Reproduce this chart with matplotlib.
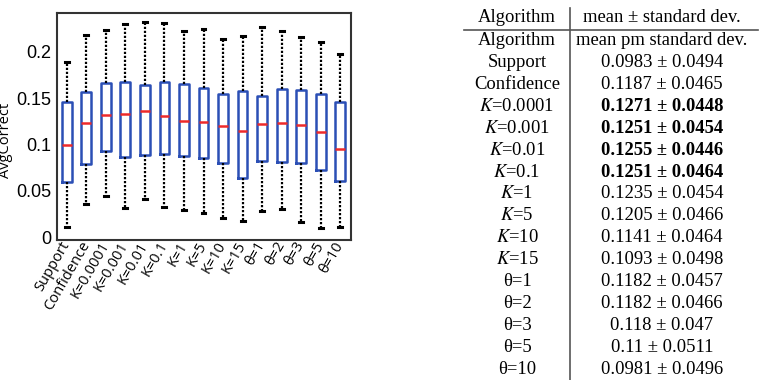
import matplotlib
matplotlib.use("Agg")
import matplotlib.pyplot as plt

# box plot data
names = ["Support", "Confidence", "K=0.0001", "K=0.001", "K=0.01", "K=0.1",
         "K=1", "K=5", "K=10", "K=15", "θ=1", "θ=2", "θ=3", "θ=5", "θ=10"]
whis_hi = [0.189, 0.2185, 0.224, 0.2297, 0.2318, 0.2311, 0.2225, 0.2247,
           0.2142, 0.2175, 0.2265, 0.2228, 0.2164, 0.2107, 0.1977]
q3 = [0.146, 0.1565, 0.1668, 0.168, 0.1643, 0.1676, 0.165, 0.1614,
      0.1543, 0.1579, 0.1528, 0.160, 0.1586, 0.155, 0.1463]
med = [0.0997, 0.1237, 0.132, 0.133, 0.136, 0.1313, 0.1259, 0.1245,
       0.1205, 0.1148, 0.1226, 0.1237, 0.1216, 0.114, 0.0957]
q1 = [0.0598, 0.0789, 0.0932, 0.087, 0.0892, 0.090, 0.0881, 0.0853,
      0.0803, 0.0644, 0.0828, 0.0817, 0.080, 0.0724, 0.0605]
whis_lo = [0.0106, 0.0358, 0.044, 0.0315, 0.041, 0.0325, 0.0289, 0.026,
           0.0207, 0.017, 0.0286, 0.0307, 0.016, 0.0099, 0.0113]

# table data
tab_header = ["Algorithm", "mean ± standard dev."]
tab_algo = ["Algorithm", "Support", "Confidence", "$K$=0.0001", "$K$=0.001",
            "$K$=0.01", "$K$=0.1", "$K$=1", "$K$=5", "$K$=10", "$K$=15",
            "θ=1", "θ=2", "θ=3", "θ=5", "θ=10"]
tab_val = ["mean pm standard dev.", "0.0983 ± 0.0494", "0.1187 ± 0.0465",
           "0.1271 ± 0.0448", "0.1251 ± 0.0454", "0.1255 ± 0.0446",
           "0.1251 ± 0.0464", "0.1235 ± 0.0454", "0.1205 ± 0.0466",
           "0.1141 ± 0.0464", "0.1093 ± 0.0498", "0.1182 ± 0.0457",
           "0.1182 ± 0.0466", "0.118 ± 0.047", "0.11 ± 0.0511",
           "0.0981 ± 0.0496"]
tab_bold = [False, False, False, True, True, True, True, False, False,
            False, False, False, False, False, False, False]

plt.rcParams["mathtext.fontset"] = "stix"

fig = plt.figure(figsize=(7.68, 3.8), dpi=100)

# ---- box plot ----
ax = fig.add_axes([57 / 768, 1 - 240 / 380, 294 / 768, 227 / 380])
stats = []
for i in range(len(names)):
    stats.append(dict(med=med[i], q1=q1[i], q3=q3[i], whislo=whis_lo[i],
                      whishi=whis_hi[i], fliers=[], label=names[i]))
ax.bxp(stats, positions=range(1, len(names) + 1), widths=0.5,
       showfliers=False, capwidths=0.2,
       boxprops=dict(color="#2b4fb5", linewidth=1.8),
       medianprops=dict(color="#ee2a2a", linewidth=1.8),
       whiskerprops=dict(color="black", linestyle=(0, (1, 0.8)), linewidth=1.6),
       capprops=dict(color="black", linewidth=2.2))
ax.set_xlim(0.5, 15.55)
ax.set_ylim(-0.003, 0.242)
ax.set_yticks([0, 0.05, 0.1, 0.15, 0.2])
ax.set_yticklabels(["0", "0.05", "0.1", "0.15", "0.2"],
                   family="Liberation Sans", fontsize=13)
ax.tick_params(axis="y", length=0, pad=4)
ax.tick_params(axis="x", length=0, pad=2)
ax.set_xticklabels(names, rotation=60, ha="right", va="center",
                   rotation_mode="anchor", family="Open Sans", fontsize=10.5)
ax.set_ylabel("AvgCorrect", family="Open Sans", fontsize=10.5)
ax.yaxis.set_label_coords(-0.148, 0.44)
for s in ax.spines.values():
    s.set_color("#333333")
    s.set_linewidth(1.5)

# ---- table ----
tx = fig.add_axes([0, 0, 1, 1])
tx.set_xlim(0, 768)
tx.set_ylim(380, 0)
tx.axis("off")
serif = ["Liberation Serif", "DejaVu Serif"]
fs = 13.4
tx.text(517, 17, tab_header[0], ha="center", va="center", family=serif, fontsize=fs)
tx.text(662, 17, tab_header[1], ha="center", va="center", family=serif, fontsize=fs)
tx.plot([464, 758], [30, 30], color="#555555", linewidth=1.2)
tx.plot([570, 570], [8, 380], color="#555555", linewidth=1.2)
for i in range(len(tab_algo)):
    y = 40.7 + i * 21.9
    tx.text(517, y, tab_algo[i], ha="center", va="center", family=serif, fontsize=fs)
    tx.text(662, y, tab_val[i], ha="center", va="center", family=serif, fontsize=fs,
            fontweight="bold" if tab_bold[i] else "normal")

fig.savefig("out.png", dpi=100)
